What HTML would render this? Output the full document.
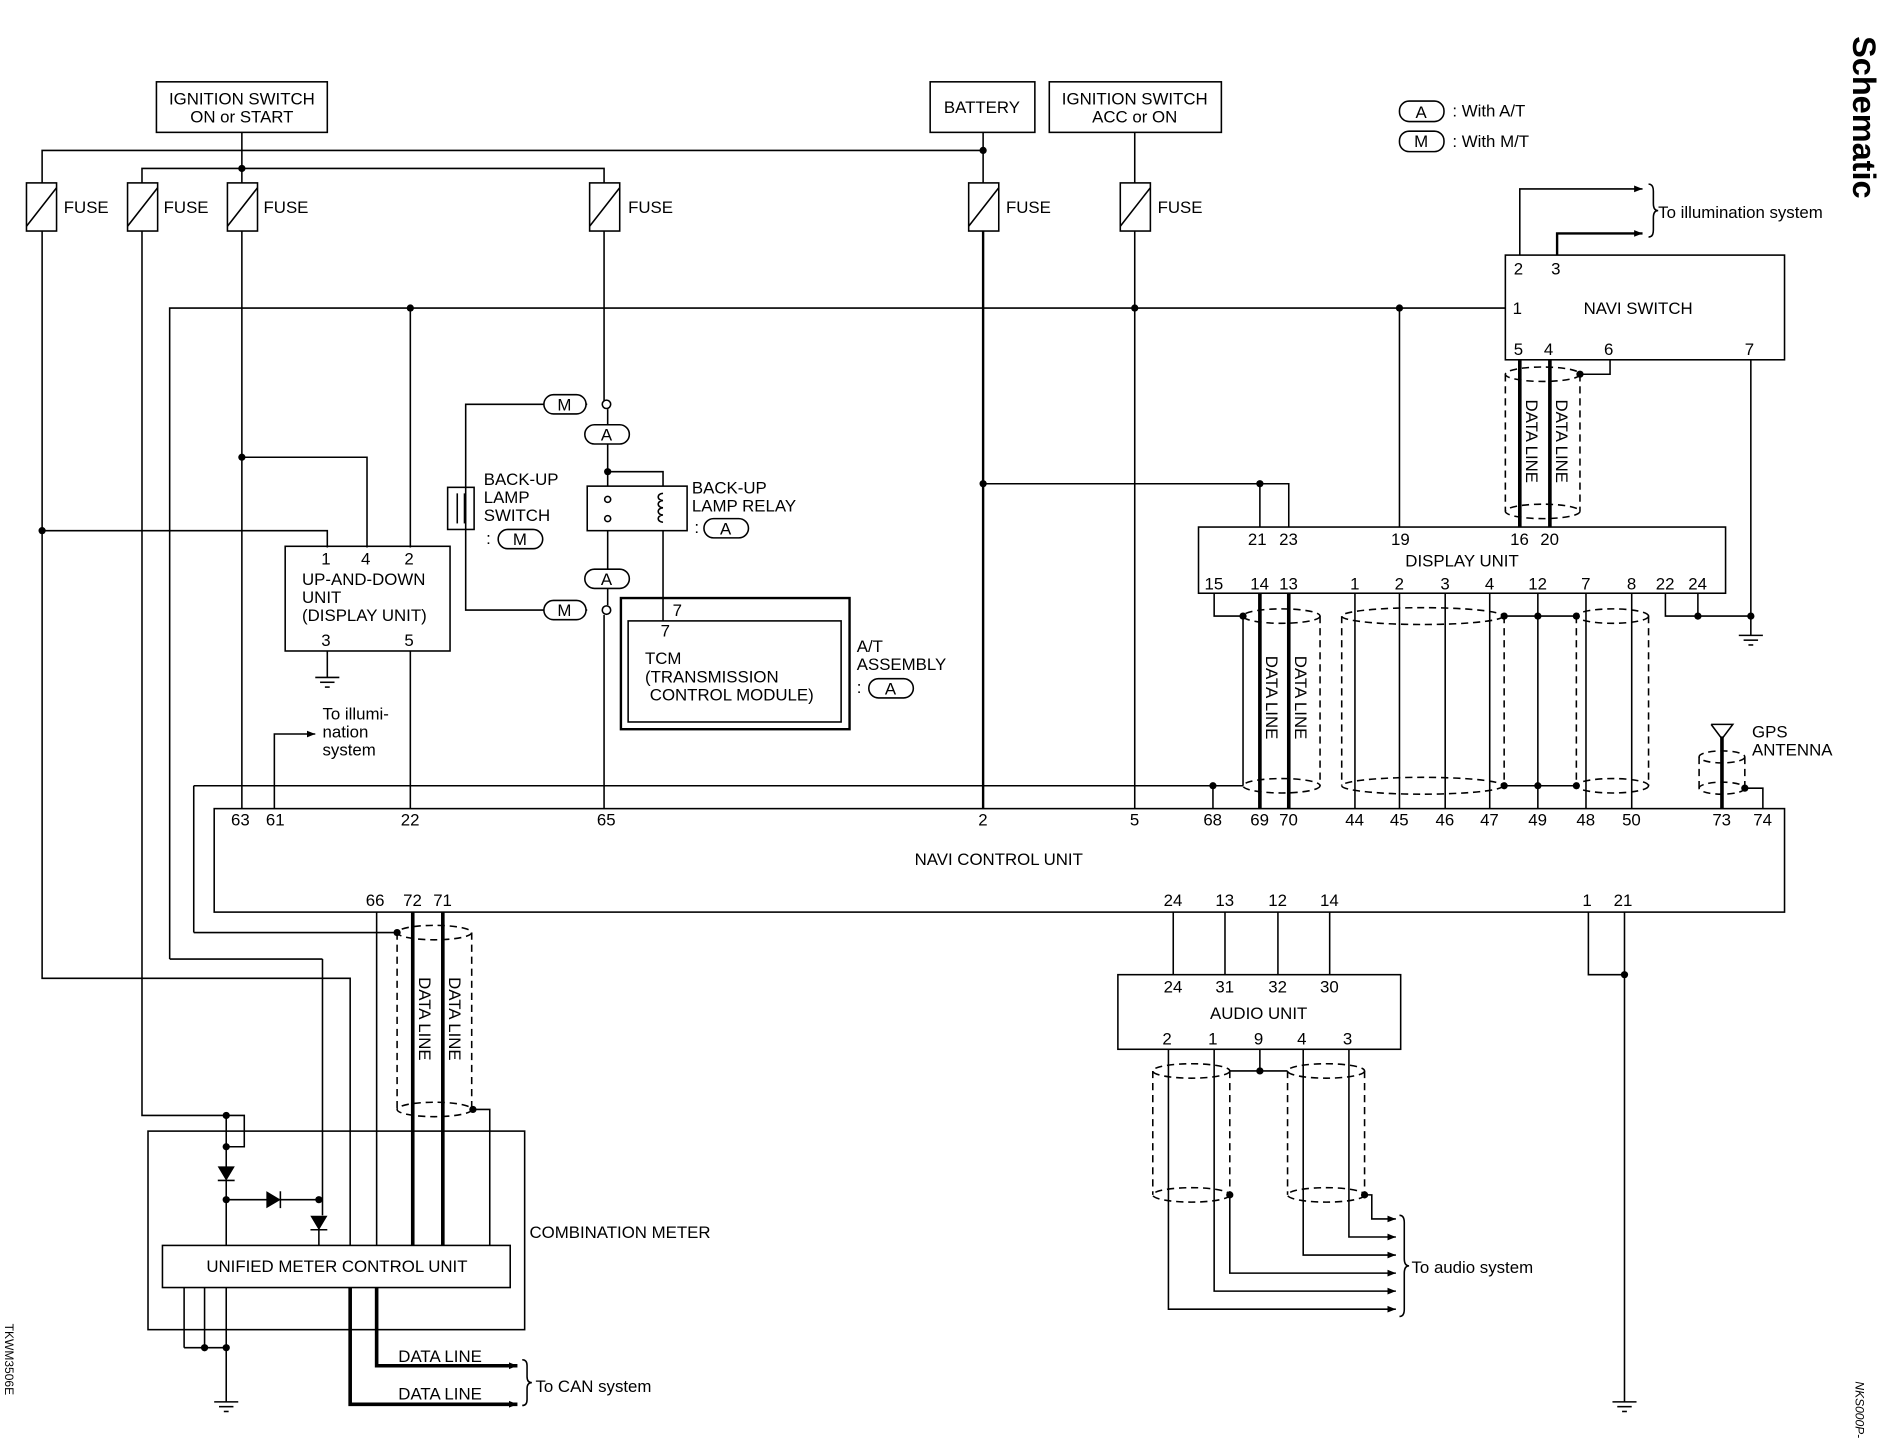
<!DOCTYPE html>
<html><head><meta charset="utf-8"><style>
html,body{margin:0;padding:0;background:#fff;}
svg{display:block;}
text{font-family:"Liberation Sans",sans-serif;font-size:14px;fill:#000;}
</style></head><body>
<svg width="1882" height="1456" viewBox="0 0 1564 1210" preserveAspectRatio="none" xmlns="http://www.w3.org/2000/svg">
<defs>
<marker id="ar" viewBox="0 0 10 10" refX="10" refY="5" markerWidth="7" markerHeight="7" orient="auto" markerUnits="userSpaceOnUse"><path d="M0,1 L10,5 L0,9z" fill="#000"/></marker>
</defs>
<g fill="none" stroke="#000" stroke-width="1.3">
<rect x="130" y="68" width="142" height="42"/>
<rect x="773" y="68" width="87" height="42"/>
<rect x="872" y="68" width="143" height="42"/>
<polyline points="35,152 35,125 817,125"/>
<polyline points="118,152 118,140 502,140 502,152"/>
<line x1="201" y1="110" x2="201" y2="152"/>
<line x1="817" y1="110" x2="817" y2="152"/>
<line x1="943" y1="110" x2="943" y2="152"/>
<g>
<rect x="22" y="152" width="25" height="40"/><line x1="22" y1="188" x2="47" y2="156"/>
<rect x="106" y="152" width="25" height="40"/><line x1="106" y1="188" x2="131" y2="156"/>
<rect x="189" y="152" width="25" height="40"/><line x1="189" y1="188" x2="214" y2="156"/>
<rect x="490" y="152" width="25" height="40"/><line x1="490" y1="188" x2="515" y2="156"/>
<rect x="805" y="152" width="25" height="40"/><line x1="805" y1="188" x2="830" y2="156"/>
<rect x="931" y="152" width="25" height="40"/><line x1="931" y1="188" x2="956" y2="156"/>
</g>
<polyline points="141,797 141,256 1251,256"/>
<line x1="141" y1="797" x2="268" y2="797"/><line x1="268" y1="797" x2="268" y2="1010"/>
<polyline points="35,192 35,813 291,813 291,1035"/>
<polyline points="118,192 118,927 203,927 203,953 188,953"/>
<line x1="188" y1="927" x2="188" y2="1035"/>
<line x1="188" y1="997" x2="265" y2="997"/>
<line x1="265" y1="1020" x2="265" y2="1035"/>
<polyline points="201,192 201,672"/>
<polyline points="201,380 305,380 305,455"/>
<polyline points="35,441 272,441 272,455"/>
<line x1="341" y1="256" x2="341" y2="455"/>
<line x1="341" y1="541" x2="341" y2="672"/>
<rect x="237" y="454" width="137" height="87"/>
<line x1="272" y1="541" x2="272" y2="563"/>
<polyline points="228,672 228,610 262,610" marker-end="url(#ar)"/>
<line x1="502" y1="192" x2="502" y2="333"/>
<polyline points="488,336 387,336 387,507 488,507"/>
<rect x="372" y="405" width="22" height="35"/>
<line x1="380" y1="410" x2="380" y2="435"/><line x1="386" y1="410" x2="386" y2="435"/>
<polyline points="505,340 505,392 551,392 551,404"/>
<rect x="488" y="404" width="83" height="37"/>
<line x1="505" y1="392" x2="505" y2="404"/>
<line x1="505" y1="441" x2="505" y2="503"/>
<line x1="502" y1="511" x2="502" y2="672"/>
<line x1="551" y1="441" x2="551" y2="516"/>
<rect x="516" y="497" width="190" height="109" stroke-width="2"/>
<rect x="522" y="516" width="177" height="84"/>
<line x1="817" y1="192" x2="817" y2="672" stroke-width="2"/>
<polyline points="817,402 1071,402 1071,438"/>
<line x1="1047" y1="402" x2="1047" y2="438"/>
<line x1="943" y1="192" x2="943" y2="672"/>
<line x1="1163" y1="256" x2="1163" y2="438"/>
<rect x="1251" y="212" width="232" height="87"/>
<polyline points="1263,212 1263,157 1365,157" marker-end="url(#ar)"/>
<polyline points="1294,212 1294,194 1365,194" stroke-width="2" marker-end="url(#ar)"/>
<path d="M1370,153 q4,0 4,6 v10 q0,6 4,6 q-4,0 -4,6 v10 q0,6 -4,6"/>
<line x1="1455" y1="299" x2="1455" y2="528"/>
<polyline points="1338,299 1338,311 1313,311"/>
<line x1="1263" y1="299" x2="1263" y2="438" stroke-width="3"/>
<line x1="1288" y1="299" x2="1288" y2="438" stroke-width="3"/>
<g stroke-dasharray="6,4">
<ellipse cx="1282" cy="311" rx="31" ry="6"/><ellipse cx="1282" cy="425" rx="31" ry="6"/>
<line x1="1251" y1="311" x2="1251" y2="425"/><line x1="1313" y1="311" x2="1313" y2="425"/>
</g>
<rect x="996" y="438" width="438" height="55"/>
<polyline points="1384,493 1384,512 1455,512"/>
<line x1="1411" y1="493" x2="1411" y2="512"/>
<polyline points="1009,493 1009,512 1033,512"/>
<line x1="1033" y1="512" x2="1033" y2="653"/>
<line x1="161" y1="653" x2="1033" y2="653"/>
<line x1="1008" y1="653" x2="1008" y2="672"/>
<line x1="1047" y1="493" x2="1047" y2="672" stroke-width="3"/>
<line x1="1071" y1="493" x2="1071" y2="672" stroke-width="3"/>
<line x1="1126" y1="493" x2="1126" y2="672"/>
<line x1="1163" y1="493" x2="1163" y2="672"/>
<line x1="1201" y1="493" x2="1201" y2="672"/>
<line x1="1238" y1="493" x2="1238" y2="672"/>
<line x1="1278" y1="493" x2="1278" y2="672"/>
<line x1="1318" y1="493" x2="1318" y2="672"/>
<line x1="1356" y1="493" x2="1356" y2="672"/>
<line x1="1250" y1="512" x2="1310" y2="512"/><line x1="1250" y1="653" x2="1310" y2="653"/>
<g stroke-dasharray="6,4">
<ellipse cx="1065" cy="512" rx="32" ry="6"/><ellipse cx="1065" cy="653" rx="32" ry="6"/><line x1="1097" y1="512" x2="1097" y2="653"/>
<ellipse cx="1182" cy="512" rx="67" ry="7"/><ellipse cx="1182" cy="653" rx="67" ry="7"/><line x1="1115" y1="512" x2="1115" y2="653"/><line x1="1250" y1="512" x2="1250" y2="653"/>
<line x1="1310" y1="512" x2="1310" y2="653"/>
<ellipse cx="1340" cy="512" rx="30" ry="6"/><ellipse cx="1340" cy="653" rx="30" ry="6"/><line x1="1370" y1="512" x2="1370" y2="653"/>
<ellipse cx="1431" cy="629" rx="19" ry="5"/><ellipse cx="1431" cy="655" rx="19" ry="5"/><line x1="1412" y1="629" x2="1412" y2="655"/><line x1="1450" y1="629" x2="1450" y2="655"/>
</g>
<line x1="1431" y1="612" x2="1431" y2="672" stroke-width="3"/>
<polyline points="1422,602 1431,614 1440,602 1422,602"/>
<polyline points="1465,672 1465,655 1450,655"/>
<line x1="161" y1="653" x2="161" y2="775"/>
<rect x="178" y="672" width="1305" height="86"/>
<line x1="161" y1="775" x2="330" y2="775"/>
<line x1="313" y1="758" x2="313" y2="1035"/>
<line x1="343" y1="758" x2="343" y2="1035" stroke-width="3"/>
<line x1="368" y1="758" x2="368" y2="1035" stroke-width="3"/>
<polyline points="393,922 407,922 407,1035"/>
<g stroke-dasharray="6,4">
<ellipse cx="361" cy="775" rx="31" ry="6"/><ellipse cx="361" cy="922" rx="31" ry="6"/>
<line x1="330" y1="775" x2="330" y2="922"/><line x1="392" y1="775" x2="392" y2="922"/>
</g>
<rect x="123" y="940" width="313" height="165"/>
<rect x="135" y="1035" width="289" height="35"/>
<line x1="153" y1="1070" x2="153" y2="1120"/><line x1="170" y1="1070" x2="170" y2="1120"/>
<line x1="153" y1="1120" x2="188" y2="1120"/>
<line x1="188" y1="1070" x2="188" y2="1165"/>
<polyline points="313,1070 313,1135 430,1135" stroke-width="3" marker-end="url(#ar)"/>
<polyline points="291,1070 291,1167 430,1167" stroke-width="3" marker-end="url(#ar)"/>
<path d="M434,1130 q4,0 4,5 v9 q0,5 4,5 q-4,0 -4,5 v9 q0,5 -4,5"/>
<line x1="975" y1="758" x2="975" y2="810"/><line x1="1018" y1="758" x2="1018" y2="810"/>
<line x1="1062" y1="758" x2="1062" y2="810"/><line x1="1105" y1="758" x2="1105" y2="810"/>
<rect x="929" y="810" width="235" height="62"/>
<polyline points="971,872 971,1088 1160,1088" marker-end="url(#ar)"/>
<polyline points="1009,872 1009,1073 1160,1073" marker-end="url(#ar)"/>
<polyline points="1022,993 1022,1058 1160,1058" marker-end="url(#ar)"/>
<polyline points="1083,872 1083,1043 1160,1043" marker-end="url(#ar)"/>
<polyline points="1121,872 1121,1028 1160,1028" marker-end="url(#ar)"/>
<polyline points="1134,993 1140,993 1140,1013 1160,1013" marker-end="url(#ar)"/>
<polyline points="1047,872 1047,890 1022,890"/><line x1="1047" y1="890" x2="1070" y2="890"/>
<path d="M1163,1010 q4,0 4,6 v30 q0,6 4,6 q-4,0 -4,6 v30 q0,6 -4,6"/>
<g stroke-dasharray="6,4">
<ellipse cx="990" cy="890" rx="32" ry="6"/><ellipse cx="990" cy="993" rx="32" ry="6"/><line x1="958" y1="890" x2="958" y2="993"/><line x1="1022" y1="890" x2="1022" y2="993"/>
<ellipse cx="1102" cy="890" rx="32" ry="6"/><ellipse cx="1102" cy="993" rx="32" ry="6"/><line x1="1070" y1="890" x2="1070" y2="993"/><line x1="1134" y1="890" x2="1134" y2="993"/>
</g>
<polyline points="1320,758 1320,810 1350,810"/>
<line x1="1350" y1="758" x2="1350" y2="1165"/>
<g fill="#fff">
<rect x="452" y="328" width="35" height="16" rx="8"/>
<rect x="486" y="353" width="37" height="16" rx="8"/>
<rect x="486" y="473" width="37" height="16" rx="8"/>
<rect x="452" y="499" width="35" height="16" rx="8"/>
<rect x="414" y="440" width="37" height="16" rx="8"/>
<rect x="585" y="431" width="37" height="16" rx="8"/>
<rect x="722" y="564" width="37" height="16" rx="8"/>
<rect x="1163" y="84" width="37" height="17" rx="8"/>
<rect x="1163" y="109" width="37" height="17" rx="8"/>
<circle cx="504" cy="336" r="3.5"/>
<circle cx="504" cy="507" r="3.5"/>
<circle cx="505" cy="415" r="2.5"/><circle cx="505" cy="431" r="2.5"/>
</g>
<path d="M551,410 a4,3 0 1 0 0,6 a4,3 0 1 0 0,6 a4,3 0 1 0 0,6 a4,3 0 1 0 0,6"/>
<g>
<line x1="262" y1="563" x2="282" y2="563"/><line x1="266" y1="567" x2="278" y2="567"/><line x1="270" y1="571" x2="274" y2="571"/>
<line x1="1445" y1="528" x2="1465" y2="528"/><line x1="1449" y1="532" x2="1461" y2="532"/><line x1="1453" y1="536" x2="1457" y2="536"/>
<line x1="178" y1="1165" x2="198" y2="1165"/><line x1="182" y1="1169" x2="194" y2="1169"/><line x1="186" y1="1173" x2="190" y2="1173"/>
<line x1="1340" y1="1165" x2="1360" y2="1165"/><line x1="1344" y1="1169" x2="1356" y2="1169"/><line x1="1348" y1="1173" x2="1352" y2="1173"/>
</g>
</g>
<g fill="#000" stroke="#000" stroke-width="1.3">
<path d="M182,970 L194,970 L188,980z"/><line x1="181" y1="981" x2="195" y2="981"/>
<path d="M222,991 L222,1003 L232,997z"/><line x1="233" y1="990" x2="233" y2="1004"/>
<path d="M259,1011 L271,1011 L265,1021z"/><line x1="258" y1="1022" x2="272" y2="1022"/>
</g>
<g fill="#000">
<circle cx="201" cy="140" r="3"/><circle cx="817" cy="125" r="3"/>
<circle cx="341" cy="256" r="3"/><circle cx="943" cy="256" r="3"/><circle cx="1163" cy="256" r="3"/>
<circle cx="201" cy="380" r="3"/><circle cx="35" cy="441" r="3"/>
<circle cx="505" cy="392" r="3"/><circle cx="817" cy="402" r="3"/><circle cx="1047" cy="402" r="3"/>
<circle cx="1313" cy="311" r="3"/><circle cx="1411" cy="512" r="3"/><circle cx="1455" cy="512" r="3"/>
<circle cx="1033" cy="512" r="3"/><circle cx="1008" cy="653" r="3"/>
<circle cx="1250" cy="512" r="3"/><circle cx="1278" cy="512" r="3"/><circle cx="1310" cy="512" r="3"/>
<circle cx="1250" cy="653" r="3"/><circle cx="1278" cy="653" r="3"/><circle cx="1310" cy="653" r="3"/>
<circle cx="1450" cy="655" r="3"/>
<circle cx="330" cy="775" r="3"/><circle cx="393" cy="922" r="3"/>
<circle cx="188" cy="927" r="3"/><circle cx="188" cy="953" r="3"/><circle cx="188" cy="997" r="3"/><circle cx="265" cy="997" r="3"/>
<circle cx="170" cy="1120" r="3"/><circle cx="188" cy="1120" r="3"/>
<circle cx="1047" cy="890" r="3"/><circle cx="1022" cy="993" r="3"/><circle cx="1134" cy="993" r="3"/>
<circle cx="1350" cy="810" r="3"/>
</g>
<g>
<text x="201" y="87" text-anchor="middle">IGNITION SWITCH</text><text x="201" y="102" text-anchor="middle">ON or START</text>
<text x="816" y="94" text-anchor="middle">BATTERY</text>
<text x="943" y="87" text-anchor="middle">IGNITION SWITCH</text><text x="943" y="102" text-anchor="middle">ACC or ON</text>
<text x="1181" y="98" text-anchor="middle">A</text><text x="1181" y="122" text-anchor="middle">M</text>
<text x="1207" y="97">: With A/T</text><text x="1207" y="122">: With M/T</text>
<text x="53" y="177">FUSE</text><text x="136" y="177">FUSE</text><text x="219" y="177">FUSE</text>
<text x="522" y="177">FUSE</text><text x="836" y="177">FUSE</text><text x="962" y="177">FUSE</text>
<text x="1378" y="181">To illumination system</text>
<text x="1258" y="228">2</text><text x="1289" y="228">3</text>
<text x="1257" y="261">1</text><text x="1316" y="261">NAVI SWITCH</text>
<text x="1258" y="295">5</text><text x="1283" y="295">4</text><text x="1333" y="295">6</text><text x="1450" y="295">7</text>
<text transform="translate(1268,332) rotate(90)">DATA LINE</text>
<text transform="translate(1293,332) rotate(90)">DATA LINE</text>
<text x="1037" y="453">21</text><text x="1063" y="453">23</text><text x="1156" y="453">19</text><text x="1255" y="453">16</text><text x="1280" y="453">20</text>
<text x="1215" y="471" text-anchor="middle">DISPLAY UNIT</text>
<text x="1001" y="490">15</text><text x="1039" y="490">14</text><text x="1063" y="490">13</text><text x="1122" y="490">1</text><text x="1159" y="490">2</text><text x="1197" y="490">3</text><text x="1234" y="490">4</text><text x="1270" y="490">12</text><text x="1314" y="490">7</text><text x="1352" y="490">8</text><text x="1376" y="490">22</text><text x="1403" y="490">24</text>
<text transform="translate(1052,545) rotate(90)">DATA LINE</text>
<text transform="translate(1076,545) rotate(90)">DATA LINE</text>
<text x="1456" y="613">GPS</text><text x="1456" y="628">ANTENNA</text>
<text x="402" y="403">BACK-UP</text><text x="402" y="418">LAMP</text><text x="402" y="433">SWITCH</text><text x="404" y="452">:</text>
<text x="432" y="453" text-anchor="middle">M</text>
<text x="575" y="410">BACK-UP</text><text x="575" y="425">LAMP RELAY</text><text x="577" y="443">:</text>
<text x="603" y="444" text-anchor="middle">A</text>
<text x="469" y="341" text-anchor="middle">M</text><text x="504" y="366" text-anchor="middle">A</text>
<text x="504" y="486" text-anchor="middle">A</text><text x="469" y="512" text-anchor="middle">M</text>
<text x="559" y="512">7</text><text x="549" y="529">7</text>
<text x="536" y="552">TCM</text><text x="536" y="567">(TRANSMISSION</text><text x="540" y="582">CONTROL MODULE)</text>
<text x="712" y="542">A/T</text><text x="712" y="557">ASSEMBLY</text><text x="712" y="576">:</text>
<text x="740" y="577" text-anchor="middle">A</text>
<text x="267" y="469">1</text><text x="300" y="469">4</text><text x="336" y="469">2</text>
<text x="251" y="486">UP-AND-DOWN</text><text x="251" y="501">UNIT</text><text x="251" y="516">(DISPLAY UNIT)</text>
<text x="267" y="537">3</text><text x="336" y="537">5</text>
<text x="268" y="598">To illumi-</text><text x="268" y="613">nation</text><text x="268" y="628">system</text>
<text x="192" y="686">63</text><text x="221" y="686">61</text><text x="333" y="686">22</text><text x="496" y="686">65</text><text x="813" y="686">2</text><text x="939" y="686">5</text><text x="1000" y="686">68</text><text x="1039" y="686">69</text><text x="1063" y="686">70</text><text x="1118" y="686">44</text><text x="1155" y="686">45</text><text x="1193" y="686">46</text><text x="1230" y="686">47</text><text x="1270" y="686">49</text><text x="1310" y="686">48</text><text x="1348" y="686">50</text><text x="1423" y="686">73</text><text x="1457" y="686">74</text>
<text x="830" y="719" text-anchor="middle">NAVI CONTROL UNIT</text>
<text x="304" y="753">66</text><text x="335" y="753">72</text><text x="360" y="753">71</text>
<text x="967" y="753">24</text><text x="1010" y="753">13</text><text x="1054" y="753">12</text><text x="1097" y="753">14</text><text x="1315" y="753">1</text><text x="1341" y="753">21</text>
<text x="967" y="825">24</text><text x="1010" y="825">31</text><text x="1054" y="825">32</text><text x="1097" y="825">30</text>
<text x="1046" y="847" text-anchor="middle">AUDIO UNIT</text>
<text x="966" y="868">2</text><text x="1004" y="868">1</text><text x="1042" y="868">9</text><text x="1078" y="868">4</text><text x="1116" y="868">3</text>
<text x="1173" y="1058">To audio system</text>
<text transform="translate(348,812) rotate(90)">DATA LINE</text>
<text transform="translate(373,812) rotate(90)">DATA LINE</text>
<text x="440" y="1029">COMBINATION METER</text>
<text x="280" y="1057" text-anchor="middle">UNIFIED METER CONTROL UNIT</text>
<text x="331" y="1132">DATA LINE</text><text x="331" y="1163">DATA LINE</text>
<text x="445" y="1157">To CAN system</text>
<text transform="translate(1540,30) rotate(90)" style="font-size:27px;font-weight:bold">Schematic</text>
<text transform="translate(4,1100) rotate(90)" style="font-size:10px">TKWM3506E</text>
<text transform="translate(1542,1148) rotate(90)" style="font-size:10px;font-style:italic">NKS000P-</text>
</g>
</svg>
</body></html>
